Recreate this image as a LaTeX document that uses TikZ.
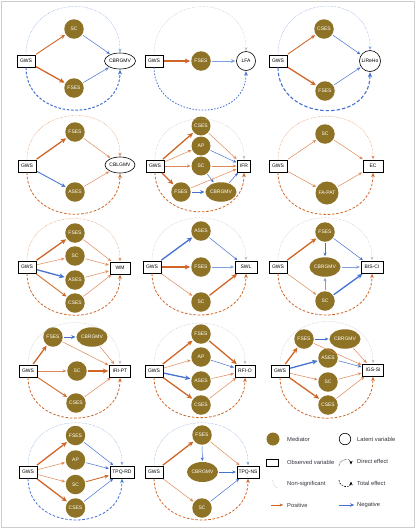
\documentclass[tikz,border=0pt]{standalone}
\usepackage{fontspec}
\setmainfont{Liberation Sans}
\usetikzlibrary{arrows.meta,shapes.geometric}
\definecolor{olv}{RGB}{142,115,38}
\definecolor{org}{RGB}{208,102,38}
\definecolor{orgl}{RGB}{222,135,85}
\definecolor{blu}{RGB}{68,114,206}
\definecolor{lblu}{RGB}{125,160,222}
\definecolor{gry}{RGB}{190,190,190}
\definecolor{frm}{RGB}{205,205,205}
\definecolor{lgc}{RGB}{50,50,60}
\tikzset{
 nfont/.style={font=\fontsize{5}{5.5}\selectfont},
 medc/.style={circle,fill=olv,text=white,minimum size=19.5pt,inner sep=0pt,nfont},
 medel/.style={ellipse,fill=olv,text=white,minimum width=29pt,minimum height=19.5pt,inner sep=0pt,nfont},
 latc/.style={circle,draw=black,line width=0.6pt,fill=white,minimum size=19pt,inner sep=0pt,nfont},
 latel/.style={ellipse,draw=black,line width=0.6pt,fill=white,minimum width=27pt,minimum height=16pt,inner sep=0pt,nfont},
 obsbox/.style={rectangle,draw=black,line width=0.7pt,fill=white,minimum width=18pt,minimum height=12pt,inner sep=1pt,nfont},
 arrtip/.style={-{Stealth[length=2.4pt 2.4,width=2pt 2.2]}},
 arrline/.style={arrtip,shorten >=0.8pt,shorten <=0.8pt},
 posa/.style={arrline,draw=org},
 posb/.style={arrline,draw=orgl},
 nega/.style={arrline,draw=blu},
 negb/.style={arrline,draw=lblu},
 wa/.style={line width=0.5pt},
 wb/.style={line width=0.85pt},
 wc/.style={line width=1.3pt},
 direff/.style={arrtip,line width=0.45pt,dash pattern=on 0.5pt off 0.9pt,shorten >=0.5pt},
 toteff/.style={arrtip,line width=0.8pt,dash pattern=on 2.6pt off 1.7pt,shorten >=0.5pt},
 arcup/.style={out=90,in=90,looseness=1.55},
 arcdn/.style={out=-90,in=-90,looseness=1.5},
 arcupa/.style={out=90,in=90,looseness=1.7},
 lgtext/.style={anchor=west,inner sep=0pt,text=lgc,font=\fontsize{5.8}{6}\selectfont},
}
\begin{document}
\begin{tikzpicture}[x=1pt,y=1pt]
\useasboundingbox (0,0) rectangle (416,-531);
\draw[frm,line width=0.8pt] (1.5,-1.5) rectangle (414,-527);

% ---------- Panel 1
\node[obsbox] (g1) at (26,-61) {GWS};
\node[medc] (sc1) at (74,-29) {SC};
\node[medc] (fs1) at (74,-88) {FSES};
\node[latel] (t1) at (120,-61) {CBRGMV};
\draw[posa,wb] (g1) -- (sc1);
\draw[posa,wc] (g1) -- (fs1);
\draw[nega,wa] (sc1) -- (t1);
\draw[nega,wa] (fs1) -- (t1);
\draw[direff,lblu] (g1.north) to[arcupa] (t1.north);
\draw[toteff,blu,line width=1pt] (g1.south) to[arcdn] (t1.south);

% ---------- Panel 2
\node[obsbox] (g2) at (154,-61) {GWS};
\node[medc] (fs2) at (201,-61) {FSES};
\node[latc] (t2) at (246,-61) {LFA};
\draw[posa,wc] (g2) -- (fs2);
\draw[negb,wb] (fs2) -- (t2);
\draw[direff,gry] (g2.north) to[arcupa] (t2.north);
\draw[toteff,blu,dash pattern=on 1.6pt off 1.5pt] (g2.south) to[arcdn] (t2.south);

% ---------- Panel 3
\node[obsbox] (g3) at (278,-61) {GWS};
\node[medc] (cs3) at (324,-29) {CSES};
\node[medc] (fs3) at (325,-91) {FSES};
\node[latc,minimum size=21pt] (t3) at (370,-61) {LiReHo};
\draw[posa,wb] (g3) -- (cs3);
\draw[posa,wc] (g3) -- (fs3);
\draw[nega,wa] (cs3) -- (t3);
\draw[nega,wa] (fs3) -- (t3);
\draw[direff,lblu] (g3.north) to[arcupa] (t3.north);
\draw[toteff,blu,line width=1.1pt,dash pattern=on 3.5pt off 2pt] (g3.south) to[arcdn] (t3.south);

% ---------- Panel 4
\node[obsbox] (g4) at (27,-166) {GWS};
\node[medc] (fs4) at (75,-132) {FSES};
\node[medc] (as4) at (75,-192) {ASES};
\node[latel,minimum width=30pt] (t4) at (120,-165) {CBLGMV};
\draw[posa,wc] (g4) -- (fs4);
\draw[nega,wb] (g4) -- (as4);
\draw[posb,wa] (fs4) -- (t4);
\draw[posb,wa] (as4) -- (t4);
\draw[direff,orgl] (g4.north) to[arcup] (t4.north);
\draw[toteff,org] (g4.south) to[arcdn] (t4.south);

% ---------- Panel 5
\node[obsbox] (g5) at (155,-166) {GWS};
\node[medc,minimum size=19pt] (cs5) at (201,-126) {CSES};
\node[medc,minimum size=19pt] (ap5) at (201,-146) {AP};
\node[medc,minimum size=19pt] (sc5) at (201,-166) {SC};
\node[medc] (fs5) at (181,-192) {FSES};
\node[medel] (cb5) at (221,-192) {CBRGMV};
\node[obsbox,minimum width=13pt] (t5) at (244,-166) {IFR};
\draw[posa,wc] (g5) -- (cs5);
\draw[posb,wa] (g5) -- (ap5);
\draw[posb,wa] (g5) -- (sc5);
\draw[posa,wc] (g5) -- (fs5);
\draw[posb,wa] (cs5) -- (t5);
\draw[nega,wa] (ap5) -- (t5);
\draw[posb,wa] (sc5) -- (t5);
\draw[nega,wa] (sc5) -- (cb5);
\draw[posb,wa] (fs5) -- (t5);
\draw[nega,wb] (fs5) -- (cb5);
\draw[nega,wa] (cb5) -- (t5);
\draw[direff,gry] (g5.north) to[arcup] (t5.north);
\draw[toteff,org] (g5.south) to[arcdn] (t5.south);

% ---------- Panel 6
\node[obsbox] (g6) at (278,-166) {GWS};
\node[medc] (sc6) at (325,-134) {SC};
\node[medc,minimum size=23pt] (fa6) at (327,-193) {FA-PAT};
\node[obsbox,minimum width=20pt] (t6) at (373,-166) {EC};
\draw[posb,wa] (g6) -- (sc6);
\draw[posb,wa] (g6) -- (fa6);
\draw[posb,wa] (sc6) -- (t6);
\draw[posb,wa] (fa6) -- (t6);
\draw[direff,orgl] (g6.north) to[arcup] (t6.north);
\draw[toteff,org] (g6.south) to[arcdn] (t6.south);

% ---------- Panel 7
\node[obsbox] (g7) at (27,-267) {GWS};
\node[medc] (fs7) at (75,-233) {FSES};
\node[medc] (sc7) at (75,-256) {SC};
\node[medc] (as7) at (75,-280) {ASES};
\node[medc] (cs7) at (75,-303) {CSES};
\node[obsbox,minimum width=20pt] (t7) at (120,-268) {WM};
\draw[posa,wc] (g7) -- (fs7);
\draw[posb,wa] (g7) -- (sc7);
\draw[nega,wc] (g7) -- (as7);
\draw[posa,wb] (g7) -- (cs7);
\draw[posb,wa] (fs7) -- (t7);
\draw[posb,wa] (sc7) -- (t7);
\draw[posb,wa] (as7) -- (t7);
\draw[posb,wa] (cs7) -- (t7);
\draw[direff,orgl] (g7.north) to[arcup] (t7.north);
\draw[toteff,org] (g7.south) to[arcdn] (t7.south);

% ---------- Panel 8
\node[obsbox] (g8) at (152,-267) {GWS};
\node[medc] (as8) at (201,-231) {ASES};
\node[medc] (fs8) at (201,-267) {FSES};
\node[medc] (sc8) at (201,-302) {SC};
\node[obsbox,minimum width=22pt] (t8) at (246,-267) {SWL};
\draw[nega,wc] (g8) -- (as8);
\draw[posa,wc] (g8) -- (fs8);
\draw[posb,wa] (g8) -- (sc8);
\draw[nega,wa] (as8) -- (t8);
\draw[negb,wa] (fs8) -- (t8);
\draw[posa,wc] (sc8) -- (t8);
\draw[direff,gry] (g8.north) to[arcup] (t8.north);
\draw[toteff,org] (g8.south) to[arcdn] (t8.south);

% ---------- Panel 9
\node[obsbox] (g9) at (278,-267) {GWS};
\node[medc] (fs9) at (325,-232) {FSES};
\node[medel] (cb9) at (325,-267) {CBRGMV};
\node[medc] (sc9) at (325,-301) {SC};
\node[obsbox,minimum width=22pt] (t9) at (372,-267) {BIS-CI};
\draw[posa,wc] (g9) -- (fs9);
\draw[posb,wa] (g9) -- (sc9);
\draw[nega,wa] (fs9) -- (cb9);
\draw[nega,wa] (fs9) -- (t9);
\draw[negb,wa] (cb9) -- (t9);
\draw[negb,wa] (sc9) -- (cb9);
\draw[nega,wc] (sc9) -- (t9);
\draw[direff,gry] (g9.north) to[arcup] (t9.north);
\draw[toteff,org] (g9.south) to[arcdn] (t9.south);

% ---------- Panel 10
\node[obsbox] (g10) at (28,-371) {GWS};
\node[medc] (fs10) at (53,-337) {FSES};
\node[medel] (cb10) at (92,-337) {CBRGMV};
\node[medc] (sc10) at (77,-371) {SC};
\node[medc] (cs10) at (76,-403) {CSES};
\node[obsbox,minimum width=21pt] (t10) at (120,-371) {IRI-PT};
\draw[posa,wc] (g10) -- (fs10);
\draw[posb,wa] (g10) -- (sc10);
\draw[posa,wb] (g10) -- (cs10);
\draw[nega,wb] (fs10) -- (cb10);
\draw[posb,wa] (fs10) -- (t10);
\draw[posb,wa] (cb10) -- (t10);
\draw[posa,wc] (sc10) -- (t10);
\draw[posb,wa] (cs10) -- (t10);
\draw[direff,gry] (g10.north) to[arcup] (t10.north);
\draw[toteff,org] (g10.south) to[arcdn] (t10.south);

% ---------- Panel 11
\node[obsbox] (g11) at (154,-371) {GWS};
\node[medc] (fs11) at (201,-334) {FSES};
\node[medc] (ap11) at (201,-357) {AP};
\node[medc] (as11) at (201,-381) {ASES};
\node[medc] (cs11) at (201,-405) {CSES};
\node[obsbox,minimum width=20pt] (t11) at (245,-371) {RFI-O};
\draw[posa,wc] (g11) -- (fs11);
\draw[posb,wa] (g11) -- (ap11);
\draw[nega,wc] (g11) -- (as11);
\draw[posa,wc] (g11) -- (cs11);
\draw[posa,wc] (fs11) -- (t11);
\draw[nega,wa] (ap11) -- (t11);
\draw[posb,wa] (as11) -- (t11);
\draw[posb,wa] (cs11) -- (t11);
\draw[direff,gry] (g11.north) to[arcup] (t11.north);
\draw[toteff,org] (g11.south) to[arcdn] (t11.south);

% ---------- Panel 12
\node[obsbox] (g12) at (280,-371) {GWS};
\node[medc] (fs12) at (304,-339) {FSES};
\node[medel] (cb12) at (345,-339) {CBRGMV};
\node[medc] (as12) at (328,-358) {ASES};
\node[medc] (sc12) at (328,-382) {SC};
\node[medc] (cs12) at (328,-405) {CSES};
\node[obsbox,minimum width=21pt] (t12) at (373,-370) {IGS-SI};
\draw[posa,wc] (g12) -- (fs12);
\draw[nega,wc] (g12) -- (as12);
\draw[posb,wa] (g12) -- (sc12);
\draw[posa,wc] (g12) -- (cs12);
\draw[nega,wa] (fs12) -- (cb12);
\draw[posb,wa] (fs12) -- (t12);
\draw[posb,wa] (cb12) -- (t12);
\draw[nega,wa] (as12) -- (t12);
\draw[posb,wa] (sc12) -- (t12);
\draw[posb,wa] (cs12) -- (t12);
\draw[direff,gry] (g12.north) to[arcup] (t12.north);
\draw[toteff,org] (g12.south) to[arcdn] (t12.south);

% ---------- Panel 13
\node[obsbox] (g13) at (28,-472) {GWS};
\node[medc] (fs13) at (75.5,-435.5) {FSES};
\node[medc] (ap13) at (75.5,-460) {AP};
\node[medc] (sc13) at (75.5,-484.5) {SC};
\node[medc] (cs13) at (75.5,-508) {CSES};
\node[obsbox,minimum width=24pt] (t13) at (122,-472) {TPQ-RD};
\draw[posa,wc] (g13) -- (fs13);
\draw[posb,wa] (g13) -- (ap13);
\draw[posb,wa] (g13) -- (sc13);
\draw[posa,wc] (g13) -- (cs13);
\draw[nega,wa] (fs13) -- (t13);
\draw[nega,wa] (ap13) -- (t13);
\draw[posa,wb] (sc13) -- (t13);
\draw[nega,wa] (cs13) -- (t13);
\draw[direff,lblu] (g13.north) to[arcup] (t13.north);
\draw[toteff,blu] (g13.south) to[arcdn] (t13.south);

% ---------- Panel 14
\node[obsbox] (g14) at (154,-472) {GWS};
\node[medc] (fs14) at (202,-435) {FSES};
\node[medel,minimum width=29pt,minimum height=20pt] (cb14) at (202.5,-472) {CBRGMV};
\node[medc] (sc14) at (202,-508) {SC};
\node[obsbox,minimum width=22pt] (t14) at (248,-472) {TPQ-NS};
\draw[posa,wc] (g14) -- (fs14);
\draw[posb,wa] (g14) -- (sc14);
\draw[nega,wa] (fs14) -- (cb14);
\draw[posb,wa] (fs14) -- (t14);
\draw[nega,wa] (cb14) -- (t14);
\draw[nega,wa] (sc14) -- (t14);
\draw[direff,lblu] (g14.north) to[arcup] (t14.north);
\draw[toteff,org] (g14.south) to[arcdn] (t14.south);

% ---------- Legend
\node[medc,minimum size=13pt] (lm) at (273,-439) {};
\node[lgtext] (lmt) at (287,-439) {Mediator};
\node[latc,minimum size=11.5pt] (ll) at (345,-439) {};
\node[lgtext] (llt) at (357,-439) {Latent variable};
\node[obsbox,minimum width=12pt,minimum height=7pt] (lo) at (272,-462.5) {};
\node[lgtext] (lot) at (287,-462.5) {Observed variable};
\coordinate (de1) at (339,-466);
\coordinate (de2) at (351,-465);
\draw[direff,black,line width=0.55pt] (de1) to[out=90,in=90,looseness=1.6] (de2);
\node[lgtext] (ldt) at (357,-461.5) {Direct effect};
\coordinate (ns1) at (278,-488);
\coordinate (ns2) at (272,-480);
\draw[gry,line width=0.55pt,dash pattern=on 0.5pt off 0.9pt] (ns1) to[out=180,in=-60] (ns2);
\node[lgtext] (lnt) at (287,-483.5) {Non-significant};
\coordinate (te1) at (339,-480);
\coordinate (te2) at (351,-481);
\draw[toteff,black,line width=0.6pt,dash pattern=on 1.6pt off 1.3pt] (te1) to[out=-90,in=-90,looseness=1.6] (te2);
\node[lgtext] (ltt) at (357,-483.5) {Total effect};
\coordinate (lp1) at (270,-505);
\coordinate (lp2) at (284,-505);
\draw[posa,wa] (lp1) -- (lp2);
\node[lgtext] (lpt) at (287,-505) {Positive};
\coordinate (ln1) at (338,-505);
\coordinate (ln2) at (355,-505);
\draw[nega,line width=0.7pt] (ln1) -- (ln2);
\node[lgtext] (lnn) at (357,-505) {Negative};
\end{tikzpicture}
\end{document}
